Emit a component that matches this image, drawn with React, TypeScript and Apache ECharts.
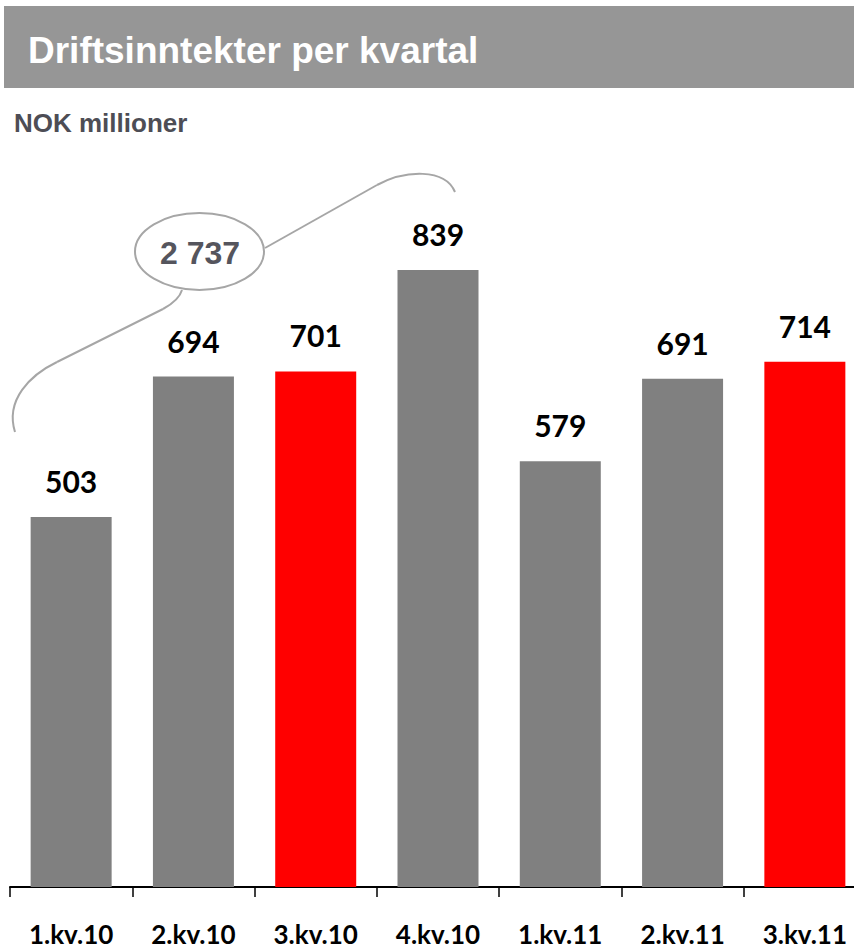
import React, { useEffect, useRef } from "react";
import * as echarts from "echarts";

const categories = ["1.kv.10", "2.kv.10", "3.kv.10", "4.kv.10", "1.kv.11", "2.kv.11", "3.kv.11"];
const values = [503, 694, 701, 839, 579, 691, 714];
const highlighted = [false, false, true, false, false, false, true];
const titleText = "Driftsinntekter per kvartal";
const unitText = "NOK millioner";
const sumCount = 4; // first four quarters summed in the bubble

const GRAY = "#808080";
const RED = "#ff0000";

function fmtSpace(n: number): string {
  return String(n).replace(/\B(?=(\d{3})+(?!\d))/g, " ");
}

export default function App() {
  const ref = useRef<HTMLDivElement>(null);
  useEffect(() => {
    document.body.style.margin = "0";
    if (!ref.current) return;
    const chart = echarts.init(ref.current, undefined, { renderer: "svg" });
    const total = values.slice(0, sumCount).reduce((a, b) => a + b, 0);
    const curve = { stroke: "#a6a6a6", lineWidth: 2, fill: "none" };
    chart.setOption({
      animation: false,
      backgroundColor: "#ffffff",
      grid: { left: 10, top: 151.5, width: 856, height: 735.5, outerBoundsMode: "none", containLabel: false },
      xAxis: {
        type: "category",
        data: categories,
        boundaryGap: true,
        axisLine: { show: true, lineStyle: { color: "#000", width: 2 } },
        axisTick: { show: true, length: 10, lineStyle: { color: "#000", width: 1.5 } },
        axisLabel: {
          margin: 34,
          color: "#000",
          fontFamily: "Lato",
          fontWeight: "bold",
          fontSize: 26,
          lineHeight: 26,
        },
      },
      yAxis: { type: "value", min: 0, max: 1000, show: false, splitLine: { show: false } },
      series: [
        {
          type: "bar",
          barWidth: 81,
          data: values.map((v, i) => ({
            value: v,
            itemStyle: { color: highlighted[i] ? RED : GRAY },
          })),
          label: {
            show: true,
            position: "top",
            distance: 21,
            color: "#000",
            fontFamily: "Lato",
            fontWeight: "bold",
            fontSize: 30,
          },
        },
      ],
      graphic: [
        { type: "rect", shape: { x: 4, y: 6, width: 850, height: 82 }, style: { fill: "#969696" } },
        {
          type: "text",
          x: 28,
          y: 50,
          style: {
            text: titleText,
            fill: "#fff",
            font: "bold 37px 'Liberation Sans', Arial, sans-serif",
            verticalAlign: "middle",
          },
        },
        {
          type: "text",
          x: 14,
          y: 123,
          style: {
            text: unitText,
            fill: "#4d4d55",
            font: "bold 26px 'Liberation Sans', Arial, sans-serif",
            verticalAlign: "middle",
          },
        },
        { type: "bezierCurve", shape: { x1: 15, y1: 432, cpx1: 5, cpy1: 400, cpx2: 30, cpy2: 375, x2: 57, y2: 362 }, style: curve },
        { type: "line", shape: { x1: 57, y1: 362, x2: 163, y2: 309 }, style: curve },
        { type: "bezierCurve", shape: { x1: 163, y1: 309, cpx1: 174, cpy1: 303, cpx2: 180, cpy2: 297, x2: 182, y2: 290 }, style: curve },
        { type: "line", shape: { x1: 265, y1: 248, x2: 377, y2: 185 }, style: curve },
        { type: "bezierCurve", shape: { x1: 377, y1: 185, cpx1: 405, cpy1: 170, cpx2: 445, cpy2: 168, x2: 455, y2: 192 }, style: curve },
        {
          type: "ellipse",
          shape: { cx: 199.5, cy: 251.5, rx: 64.5, ry: 38.5 },
          style: { fill: "#fff", stroke: "#a6a6a6", lineWidth: 2 },
        },
        {
          type: "text",
          x: 200,
          y: 253,
          style: {
            text: fmtSpace(total),
            fill: "#55555d",
            font: "bold 32px 'Liberation Sans', Arial, sans-serif",
            align: "center",
            verticalAlign: "middle",
          },
        },
      ],
    });
    return () => chart.dispose();
  }, []);
  return <div ref={ref} style={{ width: 854, height: 949 }} />;
}
